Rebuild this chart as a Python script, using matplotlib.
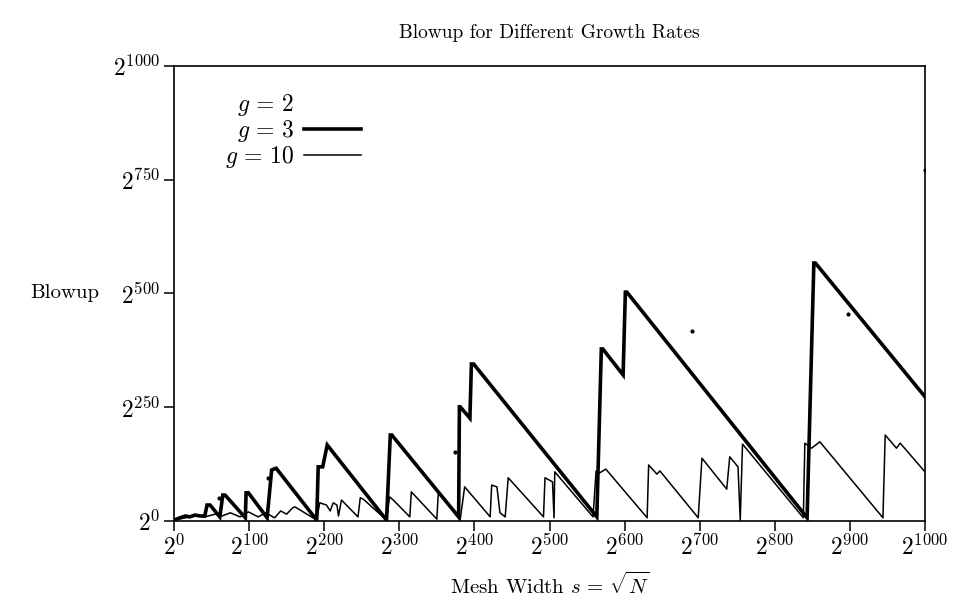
import matplotlib
matplotlib.use("Agg")
import matplotlib.pyplot as plt
from matplotlib.lines import Line2D

plt.rcParams['font.family'] = 'serif'
plt.rcParams['font.serif'] = ['cmr10', 'DejaVu Serif']
plt.rcParams['mathtext.fontset'] = 'cm'
plt.rcParams['axes.unicode_minus'] = False

# log2 of mesh width / log2 of blowup
g3_x = [0, 8, 15, 21, 28, 35, 41, 44, 48, 61, 65, 68, 95, 96, 99, 124, 130, 136,
        190, 192, 198, 204, 283, 288, 290, 379, 380, 381, 394, 396, 399, 563,
        569, 571, 598, 601, 603, 843, 852, 854, 1000]
g3_y = [2, 7, 11, 9, 13, 11, 11, 35, 35, 9, 57, 57, 7, 62, 62, 7, 112, 116,
        2, 119, 119, 167, 2, 189, 189, 9, 251, 251, 226, 345, 345, 9,
        378, 378, 321, 503, 503, 7, 567, 567, 273]

g10_x = [0, 15, 28, 41, 55, 64, 75, 88, 99, 112, 122, 134, 142, 150, 158, 161,
         190, 194, 203, 208, 212, 217, 219, 223, 245, 248, 252, 283, 287, 292,
         314, 316, 350, 352, 381, 387, 421, 423, 430, 434, 441, 445, 492, 494,
         504, 506, 507, 558, 562, 566, 575, 630, 632, 643, 647, 698, 703, 736,
         740, 751, 754, 757, 838, 840, 849, 860, 944, 947, 962, 967, 1000]
g10_y = [2, 7, 11, 9, 15, 11, 18, 9, 20, 9, 18, 7, 22, 15, 29, 31,
         2, 40, 35, 22, 40, 35, 11, 46, 9, 51, 48, 2, 53, 46,
         9, 64, 4, 64, 2, 75, 9, 79, 75, 18, 9, 95, 9, 95,
         86, 7, 108, 9, 110, 105, 114, 7, 123, 103, 110, 7, 138, 70,
         141, 119, 2, 169, 7, 171, 160, 174, 7, 189, 160, 171, 108]

# g = 2 only survives as a few scattered points
g2_x = [60, 125, 374, 690, 897, 1000]
g2_y = [51, 94, 152, 418, 455, 771]

xticks = list(range(0, 1001, 100))
yticks = [0, 250, 500, 750, 1000]

fig = plt.figure(figsize=(9.54, 6.14), dpi=100)
ax = fig.add_axes([0.1824, 0.1515, 0.7872, 0.741])

ax.plot(g3_x, g3_y, color='black', lw=2.6, solid_joinstyle='miter')
ax.plot(g10_x, g10_y, color='black', lw=1.1)
ax.plot(g2_x, g2_y, 'o', color='black', ms=2)

ax.set_xlim(0, 1000)
ax.set_ylim(0, 1000)
ax.set_xticks(xticks, ['$2^{%d}$' % t for t in xticks], fontsize=17)
ax.set_yticks(yticks, ['$2^{%d}$' % t for t in yticks], fontsize=17)
ax.tick_params(direction='out', length=7, width=1.1, pad=3)
for sp in ax.spines.values():
    sp.set_linewidth(1.2)

ax.set_title('Blowup for Different Growth Rates', fontsize=14, pad=20)
ax.set_xlabel(r'Mesh Width $s\, =\, \sqrt{N}$', fontsize=15, labelpad=8)
ax.text(-0.10, 0.5, 'Blowup', transform=ax.transAxes, ha='right', va='center',
        fontsize=15)

# legend: label first, then line sample
handles = [Line2D([], [], color='none', lw=0),
           Line2D([], [], color='black', lw=2.6),
           Line2D([], [], color='black', lw=1.1)]
labels = ['$g\, =\, 2$', '$g\, =\, 3$', '$g\, =\, 10$']
ax.legend(handles, labels, loc='upper left', bbox_to_anchor=(0.04, 0.99),
          frameon=False, markerfirst=False, fontsize=17, handlelength=2.4,
          handletextpad=0.4, labelspacing=0.0)

fig.savefig('out.png', dpi=100)
